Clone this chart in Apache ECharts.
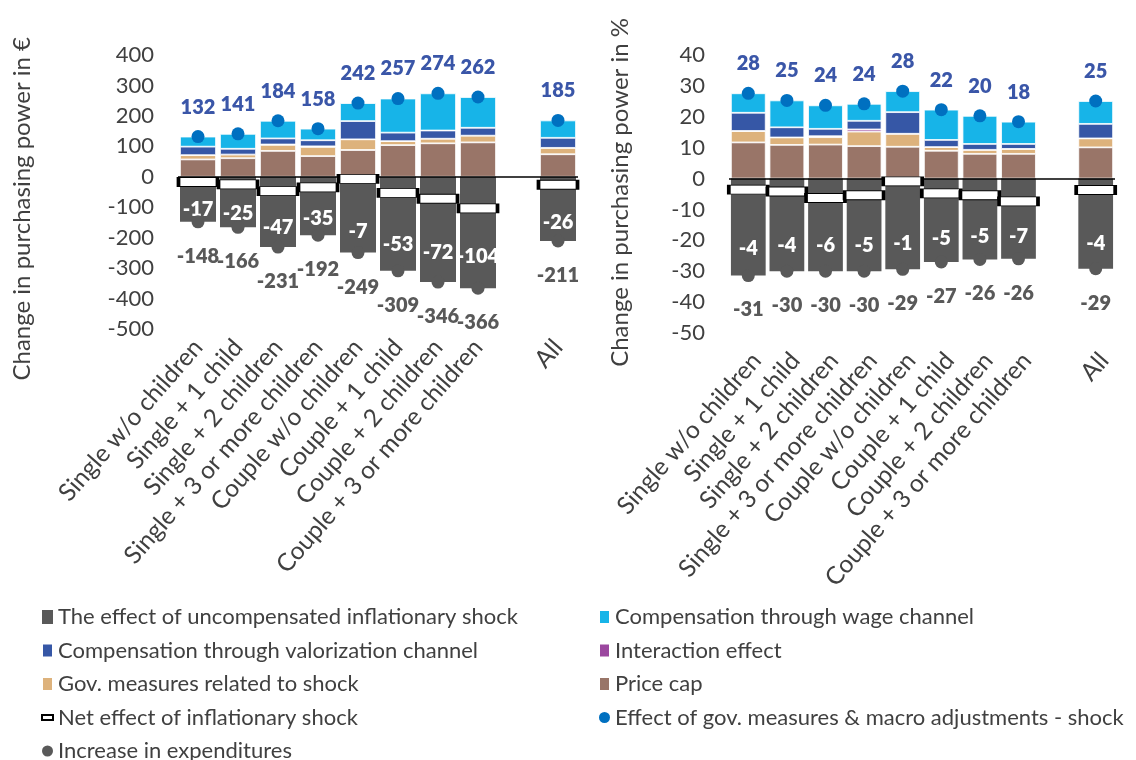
<!DOCTYPE html>
<html>
<head>
<meta charset="utf-8">
<script src="https://cdn.jsdelivr.net/npm/echarts@6/dist/echarts.min.js"></script>
<style>
  html, body { margin: 0; padding: 0; background: #fff; }
  #chart { width: 1136px; height: 760px; }
</style>
</head>
<body>
<div id="chart"></div>
<script>
// Household types (blank slot separates the total)
const categories = ['Single w/o children', 'Single + 1 child', 'Single + 2 children',
  'Single + 3 or more children', 'Couple w/o children', 'Couple + 1 child',
  'Couple + 2 children', 'Couple + 3 or more children', '', 'All'];

// Change in purchasing power, EUR
const priceCapEur      = [57, 61, 85, 68, 88, 104, 110, 113, null, 74];
const govMeasuresEur   = [14, 12, 20, 30, 35, 13, 15, 22, null, 21];
const interactionEur   = [0, 0, 1, 2, 0, 0, 0, 0, null, 0];
const valorizationEur  = [28, 19, 20, 20, 60, 28, 27, 26, null, 33];
const wageEur          = [33, 49, 58, 38, 59, 112, 122, 101, null, 57];
const uncompensatedEur = [-148, -166, -231, -192, -249, -309, -346, -366, null, -211];
const netEur           = [-17, -25, -47, -35, -7, -53, -72, -104, null, -26];
const govMacroEur      = [132, 141, 184, 158, 242, 257, 274, 262, null, 185];
const expendituresEur  = [-148, -166, -231, -192, -249, -309, -346, -366, null, -211];

// Change in purchasing power, %
const priceCapPct      = [11.7, 10.9, 11.0, 10.5, 10.3, 9.0, 8.0, 8.0, null, 10.1];
const govMeasuresPct   = [3.7, 2.4, 2.4, 4.7, 4.2, 1.2, 1.3, 1.6, null, 2.9];
const interactionPct   = [0, 0, 0.3, 0.7, 0, 0, 0, 0, null, 0];
const valorizationPct  = [5.9, 3.3, 2.4, 2.8, 7.0, 2.3, 1.9, 1.6, null, 4.7];
const wagePct          = [6.3, 8.7, 7.6, 5.5, 6.8, 9.8, 9.1, 7.2, null, 7.4];
const uncompensatedPct = [-31.4, -30, -30, -30, -29.4, -27, -26.2, -26, null, -29.2];
const netPct           = [-3.6, -4.2, -6.3, -5.4, -0.9, -4.8, -5.4, -7.4, null, -3.7];
const govMacroPct      = [27.6, 25.3, 23.7, 24.2, 28.3, 22.3, 20.3, 18.4, null, 25.1];
const expendituresPct  = [-31.4, -30, -30, -30, -29.4, -27, -26.2, -26, null, -29.2];

const NAMES = {
  uncompensated: 'The effect of uncompensated inflationary shock',
  wage: 'Compensation through wage channel',
  valorization: 'Compensation through valorization channel',
  interaction: 'Interaction effect',
  govMeasures: 'Gov. measures related to shock',
  priceCap: 'Price cap',
  net: 'Net effect of inflationary shock',
  govMacro: 'Effect of gov. measures & macro adjustments - shock',
  expenditures: 'Increase in expenditures'
};

const COLORS = {
  uncompensated: '#595959',
  wage: '#17B4E8',
  valorization: '#3657A6',
  interaction: '#9B479F',
  govMeasures: '#DDB27C',
  priceCap: '#997568',
  govMacro: '#0070C0',
  expenditures: '#595959'
};

const FONT = 'Lato';
const round = v => Math.round(v);

function stackBar(key, data, idx) {
  return {
    name: NAMES[key], type: 'bar', stack: 'g' + idx,
    xAxisIndex: idx, yAxisIndex: idx, data: data,
    barCategoryGap: '10%', z: 2,
    itemStyle: { color: COLORS[key], borderColor: '#fff', borderWidth: 0.8 },
    silent: true
  };
}

function buildSeries(idx, d) {
  const netLabels = d.net;
  return [
    stackBar('priceCap', d.priceCap, idx),
    stackBar('govMeasures', d.govMeasures, idx),
    stackBar('interaction', d.interaction, idx),
    stackBar('valorization', d.valorization, idx),
    stackBar('wage', d.wage, idx),
    Object.assign(stackBar('uncompensated', d.uncompensated, idx), {
      itemStyle: { color: COLORS.uncompensated },
      label: {
        show: true, position: ['50%', '72%'], align: 'center', verticalAlign: 'middle',
        formatter: p => (netLabels[p.dataIndex] == null ? '' : round(netLabels[p.dataIndex])),
        color: '#fff', fontFamily: FONT, fontWeight: 800, fontSize: 20
      }
    }),
    {
      name: NAMES.expenditures, type: 'scatter', xAxisIndex: idx, yAxisIndex: idx,
      data: d.expenditures, symbol: 'circle', symbolSize: 13, z: 3, silent: true,
      itemStyle: { color: COLORS.expenditures, opacity: 1 },
      label: {
        show: true, position: 'bottom', distance: 18,
        formatter: p => round(p.value),
        color: '#595959', fontFamily: FONT, fontWeight: 800, fontSize: 20
      },
      markLine: {
        silent: true, symbol: ['none', 'none'], animation: false,
        label: { show: false },
        lineStyle: { color: '#000', width: 1.5, type: 'solid' },
        data: [{ yAxis: 0 }]
      }
    },
    {
      name: NAMES.govMacro, type: 'scatter', xAxisIndex: idx, yAxisIndex: idx,
      data: d.govMacro, symbol: 'circle', symbolSize: 13, z: 5, silent: true,
      itemStyle: { color: COLORS.govMacro, opacity: 1 },
      label: {
        show: true, position: 'top', distance: 13,
        formatter: p => round(p.value),
        color: '#3A56A8', fontFamily: FONT, fontWeight: 800, fontSize: 20
      }
    },
    {
      name: NAMES.net, type: 'scatter', xAxisIndex: idx, yAxisIndex: idx,
      data: d.net, symbol: 'rect', symbolSize: [39, 9], z: 6, silent: true,
      itemStyle: { color: '#fff', borderColor: '#000', borderWidth: 1.8, opacity: 1 }
    }
  ];
}

const axisText = { color: '#404040', fontFamily: FONT, fontSize: 22 };

// shiftDown pushes the rotated label text sideways by an empty leading line
function xAxisFor(idx, margin, shiftDown) {
  return {
    type: 'category', gridIndex: idx, data: categories,
    axisLine: { show: false }, axisTick: { show: false },
    axisLabel: Object.assign({
      interval: 0, rotate: 49, margin: margin,
      formatter: v => (shiftDown ? '\n' + v : v)
    }, axisText, { fontSize: 24.5, lineHeight: shiftDown || 26 })
  };
}

function yAxisFor(idx, min, max, interval) {
  return {
    type: 'value', gridIndex: idx, min: min, max: max, interval: interval,
    axisLine: { show: false }, axisTick: { show: false }, splitLine: { show: false },
    axisLabel: Object.assign({ margin: 24 }, axisText)
  };
}

const legendText = { color: '#404040', fontFamily: FONT, fontSize: 22, lineHeight: 22 };
const legendBase = {
  orient: 'vertical', top: 601, height: 200, itemWidth: 11, itemHeight: 14, itemGap: 11.5,
  icon: 'rect', textStyle: legendText, selectedMode: false
};

const titleStyle = { fontFamily: FONT, fontSize: 24, fill: '#404040' };

const option = {
  animation: false,
  backgroundColor: '#fff',
  grid: [
    { left: 178, top: 55, width: 400, height: 274 },
    { left: 729, top: 55, width: 386, height: 278 }
  ],
  xAxis: [xAxisFor(0, 14, 0), xAxisFor(1, 16, 22)],
  yAxis: [
    yAxisFor(0, -500, 400, 100),
    yAxisFor(1, -50, 40, 10)
  ],
  graphic: [
    { type: 'text', left: 10, top: 37, rotation: Math.PI / 2, silent: true,
      style: Object.assign({ text: 'Change in purchasing power in €' }, titleStyle) },
    { type: 'text', left: 608, top: 18, rotation: Math.PI / 2, silent: true,
      style: Object.assign({ text: 'Change in purchasing power in %' }, titleStyle) }
  ],
  legend: [
    Object.assign({}, legendBase, {
      left: 36,
      data: [
        { name: NAMES.uncompensated },
        { name: NAMES.valorization },
        { name: NAMES.govMeasures },
        { name: NAMES.net, icon: 'path://M0,0 h20 v9 h-20 z',
          itemStyle: { color: '#fff', borderColor: '#000', borderWidth: 2 } },
        { name: NAMES.expenditures, icon: 'circle' }
      ]
    }),
    Object.assign({}, legendBase, {
      left: 593,
      data: [
        { name: NAMES.wage },
        { name: NAMES.interaction },
        { name: NAMES.priceCap },
        { name: NAMES.govMacro, icon: 'circle' }
      ]
    })
  ],
  series: [].concat(
    buildSeries(0, {
      priceCap: priceCapEur, govMeasures: govMeasuresEur, interaction: interactionEur,
      valorization: valorizationEur, wage: wageEur, uncompensated: uncompensatedEur,
      net: netEur, govMacro: govMacroEur, expenditures: expendituresEur
    }),
    buildSeries(1, {
      priceCap: priceCapPct, govMeasures: govMeasuresPct, interaction: interactionPct,
      valorization: valorizationPct, wage: wagePct, uncompensated: uncompensatedPct,
      net: netPct, govMacro: govMacroPct, expenditures: expendituresPct
    })
  )
};

const chart = echarts.init(document.getElementById('chart'), null, { renderer: 'canvas' });
chart.setOption(option);
</script>
</body>
</html>
